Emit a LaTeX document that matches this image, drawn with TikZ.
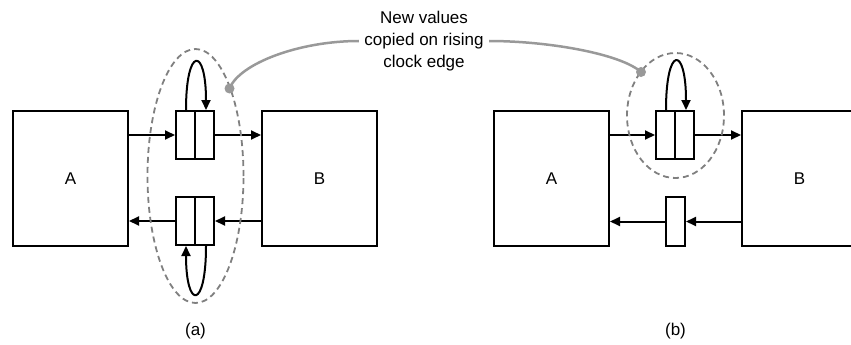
\documentclass[tikz,border=0pt]{standalone}
\usepackage{fontspec}
\setmainfont{Liberation Sans}
\usetikzlibrary{arrows.meta,shapes.geometric}
\begin{document}
\begin{tikzpicture}[x=1pt,y=-1pt,
  every node/.style={font=\fontsize{17}{22}\selectfont},
  blk/.style={draw,line width=2pt,minimum width=115pt,minimum height=135pt,inner sep=0pt},
  reg/.style={draw,line width=2pt,minimum width=19pt,minimum height=48pt,inner sep=0pt},
  arr/.style={line width=2pt,-{Triangle[length=10pt,width=9pt]}},
  grp/.style={draw=black!50,line width=1.8pt,dash pattern=on 6pt off 4pt},
  callout/.style={draw=black!40,line width=2.5pt},
  dotc/.style={fill=black!40,circle,inner sep=0pt,minimum size=10pt}]
\useasboundingbox (0,0) rectangle (851,345);
\begin{scope}
\clip (0,0) rectangle (851,345);
% ---------- (a) ----------
\node[blk] (A1) at (70.5,178.5) {A};
\node[blk] (B1) at (319.5,178.5) {B};
\node[reg] (R1a) at (185.5,135) {};
\node[reg] (R1b) at (204.5,135) {};
\node[reg] (R2a) at (185.5,221) {};
\node[reg] (R2b) at (204.5,221) {};
\draw[arr] (A1.east |- R1a.west) -- (R1a.west);
\draw[arr] (R1b.east) -- (B1.west |- R1b.east);
\draw[arr] (B1.west |- R2b.east) -- (R2b.east);
\draw[arr] (R2a.west) -- (A1.east |- R2a.west);
\coordinate (L1s) at ([xshift=0.5pt]R1a.north);
\coordinate (L1e) at ([xshift=1.5pt]R1b.north);
\draw[arr] (L1s) .. controls +(0,-64) and +(0,-64) .. (L1e);
\coordinate (L2s) at ([xshift=1.5pt]R2b.south);
\coordinate (L2e) at ([xshift=0.5pt]R2a.south);
\draw[arr] (L2s) .. controls +(0,64) and +(0,64) .. (L2e);
\node[grp,ellipse,minimum width=96pt,minimum height=254pt] (E1) at (195.5,176) {};
% ---------- (b) ----------
\node[blk] (A2) at (551.5,178.5) {A};
\node[blk] (B2) at (799.5,178.5) {B};
\node[reg] (R3a) at (665.5,135) {};
\node[reg] (R3b) at (684.5,135) {};
\node[reg,minimum height=49pt] (R4) at (675.5,221.5) {};
\draw[arr] (A2.east |- R3a.west) -- (R3a.west);
\draw[arr] (R3b.east) -- (B2.west |- R3b.east);
\draw[arr] (B2.west |- R4.east) -- (R4.east);
\draw[arr] (R4.west) -- (A2.east |- R4.west);
\coordinate (L3s) at ([xshift=0.5pt]R3a.north);
\coordinate (L3e) at ([xshift=1.5pt]R3b.north);
\draw[arr] (L3s) .. controls +(0,-65) and +(0,-65) .. (L3e);
\node[grp,ellipse,minimum width=97pt,minimum height=125pt] (E2) at (675.5,115.5) {};
% ---------- callout ----------
\node[align=center] (T) at (424,41) {New values\\copied on rising\\clock edge};
\node[dotc] (D1) at (229.5,88.5) {};
\node[dotc] (D2) at (641,72) {};
\draw[callout] ([xshift=-2pt]T.west) .. controls +(-60,0) and +(10,-25) .. (D1.center);
\draw[callout] ([xshift=2pt]T.east) .. controls +(60,0) and +(-20,-18) .. (D2.center);
% ---------- labels ----------
\node (la) at (195.5,331) {(a)};
\node (lb) at (675.5,331) {(b)};
\end{scope}
\end{tikzpicture}
\end{document}
